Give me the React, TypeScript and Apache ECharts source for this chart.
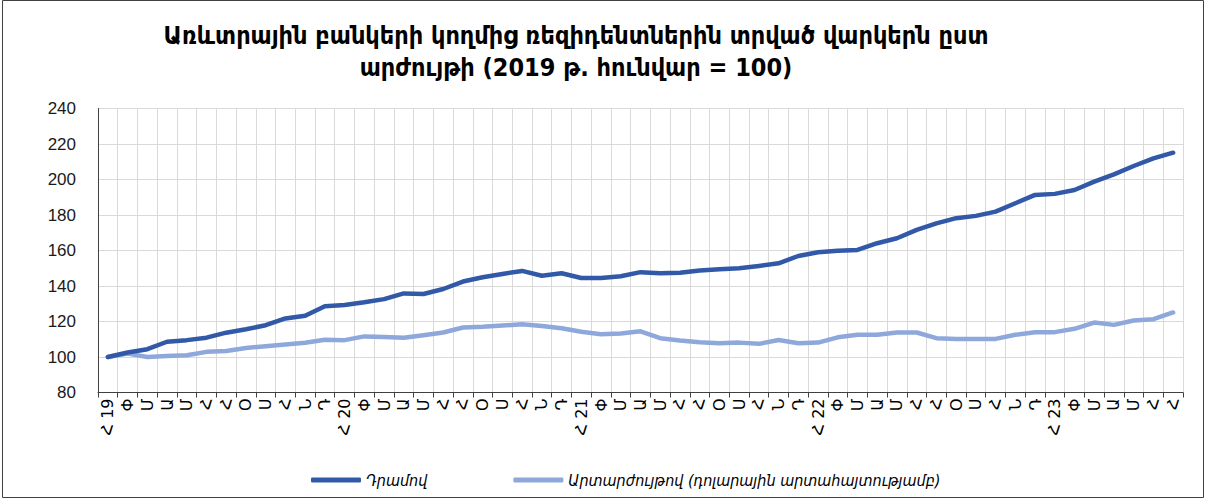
import React, { useEffect, useRef } from "react";
import * as echarts from "echarts";

const months = ["Հ", "Փ", "Մ", "Ա", "Մ", "Հ", "Հ", "Օ", "Ս", "Հ", "Ն", "Դ"];
const years = ["19", "20", "21", "22", "23"];
const lastYearMonths = 7;

const dramLoans = [
  100, 102.5, 104.4, 108.6, 109.5, 110.9, 113.7, 115.6, 117.9, 121.7, 123.2, 128.6,
  129.3, 130.8, 132.6, 135.8, 135.5, 138.3, 142.5, 144.9, 146.8, 148.5, 145.8, 147.2,
  144.5, 144.5, 145.5, 147.8, 147.2, 147.5, 148.7, 149.4, 150, 151.3, 152.8, 156.9,
  159, 159.9, 160.3, 164.1, 166.9, 171.6, 175.3, 178.2, 179.5, 181.9, 186.6, 191.3,
  191.9, 194.1, 198.8, 202.9, 207.6, 211.9, 215.1,
];

const fxLoans = [
  100, 101.9, 100, 100.5, 101, 102.9, 103.4, 105.1, 106.1, 107, 108, 109.7,
  109.5, 111.6, 111.3, 110.9, 112.3, 113.8, 116.6, 117, 117.7, 118.5, 117.5, 116.2,
  114.2, 112.8, 113.2, 114.5, 110.6, 109.3, 108.3, 107.8, 108.1, 107.4, 109.6, 107.8,
  108.1, 111.1, 112.5, 112.5, 113.8, 113.8, 110.6, 110.2, 110.1, 110.2, 112.5, 114,
  114, 115.9, 119.4, 118.1, 120.6, 121.3, 125.1,
];

const seriesNames = ["Դրամով", "Արտարժույթով (դոլարային արտահայտությամբ)"];
const titleText = "Առևտրային բանկերի կողմից ռեզիդենտներին տրված վարկերն ըստ\nարժույթի (2019 թ. հունվար = 100)";

const categories: string[] = [];
years.forEach((y, yi) => {
  const n = yi === years.length - 1 ? lastYearMonths : 12;
  for (let m = 0; m < n; m++) {
    categories.push(m === 0 ? `${months[m]} ${y}` : months[m]);
  }
});

export default function App() {
  const ref = useRef<HTMLDivElement>(null);
  useEffect(() => {
    if (!ref.current) return;
    const chart = echarts.init(ref.current, null, { renderer: "svg" });
    chart.setOption({
      animation: false,
      backgroundColor: "#ffffff",
      title: {
        text: titleText,
        left: 571,
        top: 14,
        textAlign: "center",
        textStyle: {
          fontFamily: "DejaVu Sans Condensed",
          fontWeight: "bold",
          fontSize: 25,
          lineHeight: 32,
          color: "#000000",
        },
      },
      legend: {
        left: 306,
        top: 467,
        icon: "roundRect",
        itemWidth: 50,
        itemHeight: 5,
        itemGap: 86,
        textStyle: {
          fontFamily: "DejaVu Sans Condensed",
          fontStyle: "italic",
          fontSize: 16,
          color: "#000000",
        },
        data: seriesNames,
      },
      graphic: [
        {
          type: "rect",
          shape: { x: 2.5, y: 0.5, width: 1201, height: 497 },
          style: { fill: "none", stroke: "#404040", lineWidth: 1 },
          silent: true,
        },
      ],
      grid: { left: 98, right: 25, top: 108.5, bottom: 109.5 },
      xAxis: {
        type: "category",
        data: categories,
        boundaryGap: true,
        axisLine: { show: true, lineStyle: { color: "#404040", width: 1 } },
        axisTick: { show: true, interval: 0, length: 5, lineStyle: { color: "#404040" } },
        splitLine: { show: true, interval: 0, lineStyle: { color: "#d9d9d9", width: 1 } },
        axisLabel: {
          interval: 0,
          rotate: 90,
          margin: 6,
          fontFamily: "DejaVu Sans",
          fontSize: 16,
          color: "#000000",
        },
      },
      yAxis: {
        type: "value",
        min: 80,
        max: 240,
        interval: 20,
        axisLine: { show: true, lineStyle: { color: "#404040", width: 1 } },
        axisTick: { show: false },
        splitLine: { show: true, lineStyle: { color: "#d9d9d9", width: 1 } },
        axisLabel: {
          margin: 22,
          fontFamily: "Liberation Sans",
          fontSize: 17,
          color: "#1a1a1a",
        },
      },
      series: [
        {
          name: seriesNames[0],
          type: "line",
          data: dramLoans,
          symbol: "none",
          lineStyle: { color: "#3159a8", width: 4.5, cap: "round", join: "round" },
          itemStyle: { color: "#3159a8" },
          z: 3,
        },
        {
          name: seriesNames[1],
          type: "line",
          data: fxLoans,
          symbol: "none",
          lineStyle: { color: "#8fa8dc", width: 4.5, cap: "round", join: "round" },
          itemStyle: { color: "#8fa8dc" },
          z: 2,
        },
      ],
    });
    return () => chart.dispose();
  }, []);
  return (
    <div
      ref={ref}
      style={{ position: "fixed", left: 0, top: 0, width: 1208, height: 502 }}
    />
  );
}
